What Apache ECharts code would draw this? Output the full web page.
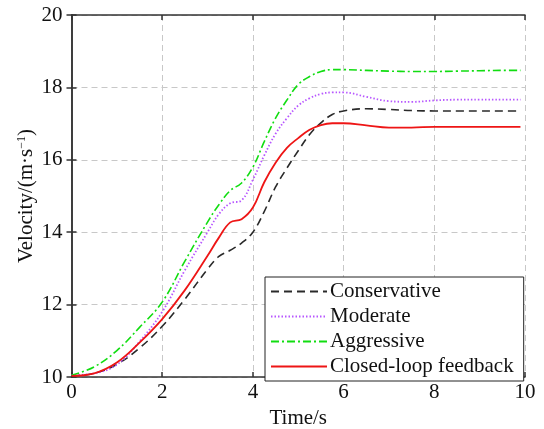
<!DOCTYPE html>
<html>
<head>
<meta charset="utf-8">
<script src="https://cdn.jsdelivr.net/npm/echarts@6/dist/echarts.min.js"></script>
<style>
html,body{margin:0;padding:0;background:#fff;}
#chart{width:544px;height:429px;}
</style>
</head>
<body>
<div id="chart"></div>
<script>
// Data
var time = [0, 0.5, 1, 1.5, 2, 2.5, 3, 3.25, 3.5, 3.75, 4, 4.25, 4.5, 4.75, 5, 5.25, 5.5, 5.75, 6, 6.5, 7, 7.5, 8, 8.5, 9, 9.5, 9.9];
var conservative = [10.03, 10.1, 10.35, 10.8, 11.4, 12.15, 12.98, 13.33, 13.5, 13.7, 14.0, 14.57, 15.25, 15.77, 16.25, 16.7, 17.02, 17.25, 17.35, 17.41, 17.39, 17.36, 17.35, 17.35, 17.35, 17.35, 17.35];
var moderate = [10.05, 10.1, 10.34, 10.98, 11.8, 12.95, 14.0, 14.5, 14.8, 14.88, 15.45, 16.12, 16.72, 17.15, 17.5, 17.7, 17.82, 17.86, 17.86, 17.74, 17.62, 17.6, 17.64, 17.66, 17.66, 17.66, 17.66];
var aggressive = [10.05, 10.28, 10.73, 11.37, 12.07, 13.2, 14.28, 14.76, 15.15, 15.36, 15.8, 16.5, 17.15, 17.65, 18.08, 18.3, 18.44, 18.49, 18.49, 18.47, 18.45, 18.44, 18.44, 18.45, 18.46, 18.47, 18.47];
var closedLoop = [10.03, 10.1, 10.4, 10.95, 11.6, 12.4, 13.35, 13.85, 14.27, 14.36, 14.68, 15.38, 15.92, 16.33, 16.6, 16.83, 16.96, 17.01, 17.01, 16.95, 16.89, 16.89, 16.91, 16.91, 16.91, 16.91, 16.91];
var seriesNames = ['Conservative', 'Moderate', 'Aggressive', 'Closed-loop feedback'];
var xTicks = [0, 2, 4, 6, 8, 10];
var yTicks = [10, 12, 14, 16, 18, 20];

function pairs(ys) { return time.map(function (t, i) { return [t, ys[i]]; }); }

var FONT = 'Liberation Serif, Times New Roman, serif';
var FS = 21;
var axisLine = { show: true, lineStyle: { color: '#333', width: 1.5 } };
var gridLine = { show: true, lineStyle: { color: '#c8c8c8', type: [6, 4], width: 1 } };
var tick = { show: true, inside: true, length: 5, lineStyle: { color: '#333', width: 1.5 } };

var chart = echarts.init(document.getElementById('chart'));
chart.setOption({
  animation: false,
  backgroundColor: '#fff',
  grid: { left: 71.5, right: 19, top: 15, bottom: 52, containLabel: false, outerBoundsMode: 'none' },
  xAxis: [{
    type: 'value', min: xTicks[0], max: xTicks[xTicks.length - 1], interval: 2,
    name: 'Time/s', nameLocation: 'middle', nameGap: 28,
    nameTextStyle: { fontFamily: FONT, fontSize: FS, color: '#111' },
    axisLine: axisLine, axisTick: tick, splitLine: gridLine,
    axisLabel: { fontFamily: FONT, fontSize: FS, color: '#111', margin: 5 }
  }, {
    type: 'value', position: 'top', min: xTicks[0], max: xTicks[xTicks.length - 1], interval: 2,
    axisLine: axisLine, axisTick: tick, splitLine: { show: false }, axisLabel: { show: false }
  }],
  yAxis: [{
    type: 'value', min: yTicks[0], max: yTicks[yTicks.length - 1], interval: 2,
    name: '{a|Velocity/(m·s}{s|−1}{a|)}', nameLocation: 'middle', nameGap: 34, nameRotate: 90,
    nameMoveOverlap: false,
    nameTextStyle: {
      fontFamily: FONT, fontSize: FS, color: '#111',
      rich: {
        a: { fontFamily: FONT, fontSize: FS, color: '#111' },
        s: { fontFamily: FONT, fontSize: 12, color: '#111', padding: [0, 0, 10, 0] }
      }
    },
    axisLine: axisLine, axisTick: tick, splitLine: gridLine,
    axisLabel: { fontFamily: FONT, fontSize: FS, color: '#111', margin: 9 }
  }, {
    type: 'value', position: 'right', min: yTicks[0], max: yTicks[yTicks.length - 1], interval: 2,
    axisLine: axisLine, axisTick: tick, splitLine: { show: false }, axisLabel: { show: false }
  }],
  legend: {
    left: 265, top: 277, orient: 'vertical',
    backgroundColor: '#fff', borderColor: '#222', borderWidth: 1,
    padding: [4, 10, 4, 5], itemGap: 4, itemWidth: 56, itemHeight: 14,
    itemStyle: { opacity: 0 },
    textStyle: { fontFamily: FONT, fontSize: FS, color: '#111', lineHeight: 20, padding: [0, 0, 0, -2] },
    data: seriesNames
  },
  series: [
    { name: seriesNames[0], type: 'line', data: pairs(conservative), smooth: 0.4, symbol: 'none', z: 3,
      lineStyle: { color: '#2a2a2a', width: 1.6, type: [8, 5] }, itemStyle: { color: '#2a2a2a' } },
    { name: seriesNames[1], type: 'line', data: pairs(moderate), smooth: 0.4, symbol: 'none', z: 3,
      lineStyle: { color: '#b757ff', width: 1.8, type: [1.5, 2] }, itemStyle: { color: '#b757ff' } },
    { name: seriesNames[2], type: 'line', data: pairs(aggressive), smooth: 0.4, symbol: 'none', z: 3,
      lineStyle: { color: '#11dd11', width: 1.6, type: [8, 3, 2, 3] }, itemStyle: { color: '#11dd11' } },
    { name: seriesNames[3], type: 'line', data: pairs(closedLoop), smooth: 0.4, symbol: 'none', z: 4,
      lineStyle: { color: '#ee1515', width: 1.8, type: 'solid' }, itemStyle: { color: '#ee1515' } }
  ]
});
</script>
</body>
</html>
